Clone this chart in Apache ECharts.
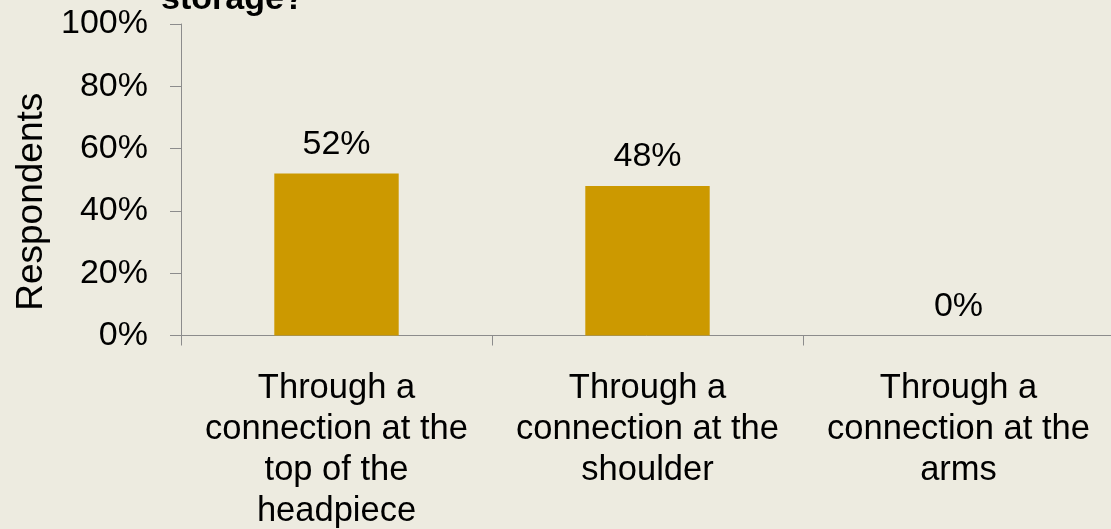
<!DOCTYPE html>
<html>
<head>
<meta charset="utf-8">
<script src="https://cdn.jsdelivr.net/npm/echarts@6/dist/echarts.min.js"></script>
<style>
  html, body { margin: 0; padding: 0; background: #EDEBE0; }
  #chart { width: 1111px; height: 529px; }
</style>
</head>
<body>
<div id="chart"></div>
<script>
// categories and values
const categories = [
  "Through a\nconnection at the\ntop of the\nheadpiece",
  "Through a\nconnection at the\nshoulder",
  "Through a\nconnection at the\narms"
]
const values = [52, 48, 0]
const yTicks = [0, 20, 40, 60, 80, 100]

const font = "Liberation Sans, Arial, sans-serif"

const chart = echarts.init(document.getElementById("chart"))

chart.setOption({
  backgroundColor: "#EDEBE0",
  animation: false,
  textStyle: { fontFamily: font },
  // only the last line of the title is visible in the picture
  title: {
    text: "storage?",
    left: 156,
    top: -22,
    textStyle: { fontFamily: font, fontSize: 34, fontWeight: "bold", color: "#000" }
  },
  grid: {
    left: 181, top: 24, right: -3, bottom: 193.5,
    containLabel: false,
    outerBoundsMode: "none"
  },
  xAxis: {
    type: "category",
    data: categories,
    axisLine: { lineStyle: { color: "#8c8c8c", width: 1 } },
    axisTick: { show: true, length: 10, lineStyle: { color: "#8c8c8c" } },
    axisLabel: {
      interval: 0,
      fontSize: 34.5,
      lineHeight: 41,
      margin: 32,
      color: "#000",
      fontFamily: font
    },
    splitLine: { show: false }
  },
  yAxis: {
    type: "value",
    min: yTicks[0],
    max: yTicks[yTicks.length - 1],
    interval: 20,
    name: "Respondents",
    nameLocation: "middle",
    nameGap: 131,
    nameRotate: 90,
    nameTextStyle: { fontSize: 37, color: "#000", fontFamily: font, padding: [0, 44, 0, 0] },
    axisLine: { show: true, lineStyle: { color: "#8c8c8c", width: 1 } },
    axisTick: { show: true, length: 11, lineStyle: { color: "#8c8c8c" } },
    axisLabel: {
      formatter: "{value}%",
      fontSize: 34,
      margin: 33,
      color: "#000",
      fontFamily: font
    },
    splitLine: { show: false }
  },
  series: [
    {
      type: "bar",
      data: values,
      barWidth: "40%",
      itemStyle: { color: "#CC9900" },
      label: {
        show: true,
        position: "top",
        distance: 12,
        formatter: "{c}%",
        fontSize: 34,
        color: "#000",
        fontFamily: font
      }
    }
  ]
})
</script>
</body>
</html>
